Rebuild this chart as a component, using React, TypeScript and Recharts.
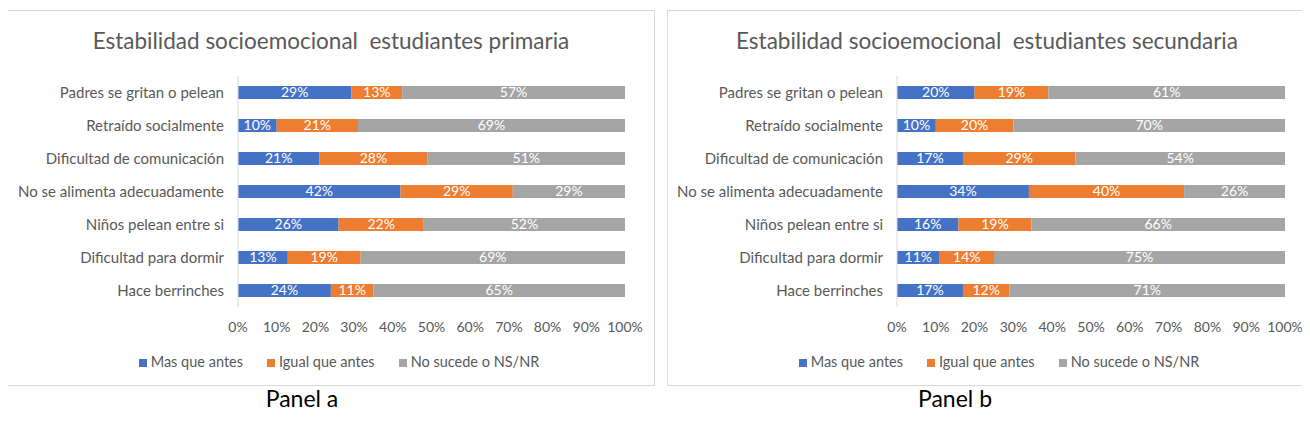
import React from 'react';
import { BarChart, Bar, XAxis, YAxis, Legend, LabelList } from 'recharts';

const categories = [
  'Padres se gritan o pelean',
  'Retraído socialmente',
  'Dificultad de comunicación',
  'No se alimenta adecuadamente',
  'Niños pelean entre si',
  'Dificultad para dormir',
  'Hace berrinches',
];

const primariaMas = [29, 10, 21, 42, 26, 13, 24];
const primariaIgual = [13, 21, 28, 29, 22, 19, 11];
const primariaNo = [57, 69, 51, 29, 52, 69, 65];

const secundariaMas = [20, 10, 17, 34, 16, 11, 17];
const secundariaIgual = [19, 20, 29, 40, 19, 14, 12];
const secundariaNo = [61, 70, 54, 26, 66, 75, 71];

const seriesNames = ['Mas que antes', 'Igual que antes', 'No sucede o NS/NR'];
const xTicks = [0, 0.1, 0.2, 0.3, 0.4, 0.5, 0.6, 0.7, 0.8, 0.9, 1];

const FONT = 'Lato, "Open Sans", sans-serif';
const GREY_TEXT = '#595959';

const build = (mas: number[], igual: number[], no: number[]) =>
  categories.map((c, i) => ({ name: c, mas: mas[i], igual: igual[i], no: no[i] }));

function Panel(props: {
  left: number;
  width: number;
  title: string;
  data: any[];
  rightMargin: number;
  yWidth: number;
}) {
  const { left, width, title, data, rightMargin, yWidth } = props;
  const height = 376;
  const pct = (v: any) => `${v}%`;
  return (
    <div
      style={{
        position: 'absolute',
        left,
        top: 10,
        width,
        height,
        border: '1px solid #D9D9D9',
        boxSizing: 'border-box',
        background: '#fff',
      }}
    >
      <div
        style={{
          position: 'absolute',
          top: 16,
          left: 0,
          width: '100%',
          textAlign: 'center',
          fontFamily: FONT,
          fontSize: 22.5,
          color: GREY_TEXT,
          whiteSpace: 'pre',
        }}
      >
        {title}
      </div>
      <BarChart
        style={{ position: 'absolute', left: -1, top: -1 }}
        width={width}
        height={height}
        data={data}
        layout="vertical"
        stackOffset="expand"
        barSize={13}
        margin={{ top: 66, right: rightMargin, left: 0, bottom: 0 }}
      >
        <XAxis
          type="number"
          domain={[0, 1]}
          ticks={xTicks}
          tickFormatter={(v: number) => `${Math.round(v * 100)}%`}
          axisLine={false}
          tickLine={false}
          interval={0}
          height={62}
          tick={{ fill: GREY_TEXT, fontSize: 14, fontFamily: FONT, dy: 7 }}
        />
        <YAxis
          type="category"
          dataKey="name"
          width={yWidth}
          axisLine={{ stroke: '#D9D9D9' }}
          tickLine={false}
          tick={{ fill: GREY_TEXT, fontSize: 15, fontFamily: FONT, dx: -6 }}
          interval={0}
        />
        <Legend
          verticalAlign="bottom"
          iconType="square"
          iconSize={8}
          itemSorter={(item: any) => seriesNames.indexOf(item.value)}
          wrapperStyle={{ bottom: 16, fontFamily: FONT, fontSize: 14.5, paddingLeft: 28 }}
          formatter={(v: any) => (
            <span style={{ color: GREY_TEXT, marginRight: v === seriesNames[2] ? 0 : 14 }}>{v}</span>
          )}
        />
        <Bar dataKey="mas" name={seriesNames[0]} stackId="a" fill="#4472C4" isAnimationActive={false}>
          <LabelList dataKey="mas" position="center" formatter={pct} fill="#fff" fontSize={14} fontFamily={FONT} />
        </Bar>
        <Bar dataKey="igual" name={seriesNames[1]} stackId="a" fill="#ED7D31" isAnimationActive={false}>
          <LabelList dataKey="igual" position="center" formatter={pct} fill="#fff" fontSize={14} fontFamily={FONT} />
        </Bar>
        <Bar dataKey="no" name={seriesNames[2]} stackId="a" fill="#A5A5A5" isAnimationActive={false}>
          <LabelList dataKey="no" position="center" formatter={pct} fill="#fff" fontSize={14} fontFamily={FONT} />
        </Bar>
      </BarChart>
    </div>
  );
}

export default function App() {
  return (
    <div style={{ position: 'relative', width: 1310, height: 438, margin: -8, background: '#fff' }}>
      <Panel
        left={7}
        width={648}
        title={'Estabilidad socioemocional  estudiantes primaria'}
        data={build(primariaMas, primariaIgual, primariaNo)}
        rightMargin={30}
        yWidth={231}
      />
      <Panel
        left={667}
        width={640}
        title={'Estabilidad socioemocional  estudiantes secundaria'}
        data={build(secundariaMas, secundariaIgual, secundariaNo)}
        rightMargin={22}
        yWidth={230}
      />
      <div style={{ position: 'absolute', left: 202, width: 200, top: 384, textAlign: 'center', fontFamily: FONT, fontSize: 23, color: '#000' }}>
        Panel a
      </div>
      <div style={{ position: 'absolute', left: 855, width: 200, top: 384, textAlign: 'center', fontFamily: FONT, fontSize: 23, color: '#000' }}>
        Panel b
      </div>
    </div>
  );
}
